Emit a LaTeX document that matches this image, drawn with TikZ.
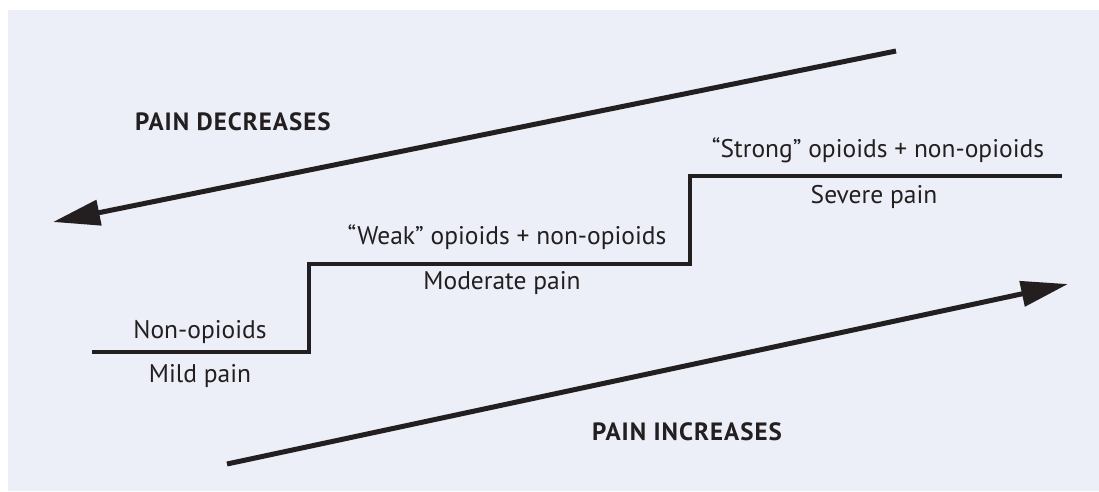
\documentclass[tikz,border=0pt]{standalone}
\usepackage{fontspec}
\setmainfont{PT Sans}
\usetikzlibrary{arrows.meta}
\definecolor{bg}{RGB}{236,239,247}
\definecolor{ink}{RGB}{35,31,32}
\tikzset{
  lbl/.style={anchor=base, inner sep=0pt, text=ink, font=\fontsize{25.5}{28}\selectfont},
  head/.style={anchor=base west, inner sep=0pt, text=ink, font=\fontsize{25}{28}\selectfont\bfseries\addfontfeature{LetterSpace=4}},
  stair/.style={draw=ink, line width=4.3pt, line cap=butt, line join=miter},
  bigarrow/.style={draw=ink, line width=5pt, -{Triangle[length=47pt,width=25pt]}}
}
\begin{document}
\begin{tikzpicture}[x=1pt,y=-1pt]
\useasboundingbox (0,0) rectangle (1099,491);
\fill[bg] (8,10) rectangle (1099,491);
% staircase corners
\coordinate (s0) at (92,352);
\coordinate (s1) at (309,352);
\coordinate (s2) at (309,264);
\coordinate (s3) at (690,264);
\coordinate (s4) at (690,176);
\coordinate (s5) at (1062,176);
\draw[stair] (s0) -- (s1) -- (s2) -- (s3) -- (s4) -- (s5);
% arrows
\coordinate (da) at (896,51);
\coordinate (db) at (53,222);
\coordinate (ia) at (227,464);
\coordinate (ib) at (1068,284);
\draw[bigarrow] (da) -- (db);
\draw[bigarrow] (ia) -- (ib);
% labels
\node[lbl] (nonop) at (200,338) {Non-opioids};
\node[lbl] (mild) at (200,382) {Mild pain};
\node[lbl] (weak) at (507,244) {“Weak” opioids + non-opioids};
\node[lbl] (moderate) at (502,289) {Moderate pain};
\node[lbl] (strong) at (878,157) {“Strong” opioids + non-opioids};
\node[lbl] (severe) at (874,203) {Severe pain};
\node[head] (decr) at (135,130) {PAIN DECREASES};
\node[head] (incr) at (592,440) {PAIN INCREASES};
\end{tikzpicture}
\end{document}
